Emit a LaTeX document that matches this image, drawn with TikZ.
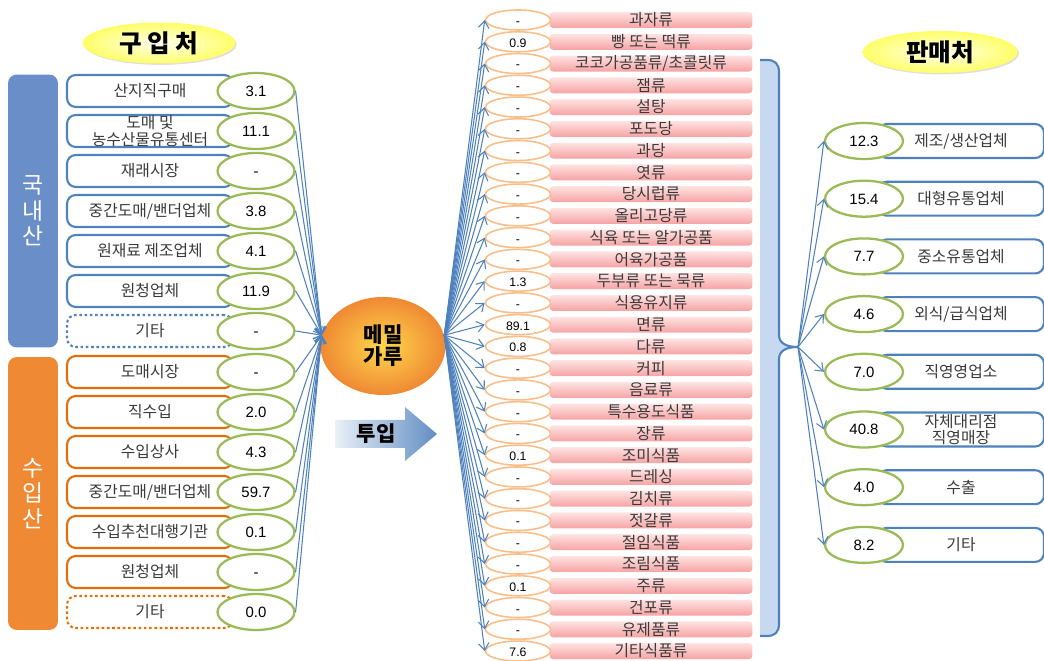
\documentclass[tikz,border=0pt]{standalone}
\usepackage{fontspec}
\setmainfont{Noto Sans CJK KR}
\newfontfamily\numfont{Liberation Sans}
\usepackage{tikz}
\usetikzlibrary{arrows.meta,positioning,shapes.geometric,shadows}
\definecolor{ofblue}{HTML}{4F81BD}
\definecolor{barblue}{HTML}{6A8FC8}
\definecolor{barorange}{HTML}{EF8933}
\definecolor{ofgreen}{HTML}{9BBB59}
\definecolor{boxorange}{HTML}{E46C0A}
\definecolor{lightorange}{HTML}{F9BE8A}
\definecolor{bracefill}{HTML}{C6D9F1}
\definecolor{txtgray}{HTML}{3A3A3A}
\definecolor{pinktop}{HTML}{FFE3E3}
\definecolor{pinkbot}{HTML}{F6A3A3}
\tikzset{%
	title/.style   = {ellipse, minimum width=3.05cm, minimum height=0.82cm, inner sep=0pt, inner color=yellow!5, outer color=yellow!60!white, drop shadow={opacity=0.25, shadow xshift=0.8pt, shadow yshift=-0.8pt}, font=\fontsize{14}{14}\selectfont\bfseries}, % Title
	origin/.style  = {rectangle, rounded corners=5pt, minimum width=1cm, minimum height=5.46cm, text=white, align=center, font=\fontsize{13}{14.5}\selectfont}, % Origin bar
	srcbox/.style  = {draw, rectangle, rounded corners=5pt, minimum width=3.32cm, minimum height=0.64cm, inner ysep=0pt, line width=1.2pt, fill=white, text=txtgray, align=center, font=\fontsize{9}{9.5}\selectfont},
	dombox/.style  = {srcbox, draw=ofblue},
	impbox/.style  = {srcbox, draw=boxorange},
	etc/.style     = {dash pattern=on 1.5pt off 1.5pt}, % Other
	val/.style     = {ellipse, draw=ofgreen, line width=1.3pt, fill=white, minimum width=1.54cm, minimum height=0.72cm, inner sep=0pt, text height=1.25ex, text depth=0.1ex, font=\numfont\fontsize{8.5}{8.5}\selectfont},
	food/.style    = {rectangle, rounded corners=2pt, minimum width=4.06cm, minimum height=0.32cm, inner sep=0pt, top color=pinktop, bottom color=pinkbot, text=txtgray, font=\fontsize{9}{9}\selectfont},
	foodval/.style = {ellipse, draw=lightorange, line width=0.9pt, fill=white, minimum width=1.3cm, minimum height=0.4cm, inner sep=0pt, text height=1.25ex, text depth=0.1ex, font=\numfont\fontsize{7}{7}\selectfont},
	flour/.style   = {ellipse, minimum width=2.5cm, minimum height=1.96cm, inner sep=0pt, inner color=orange!45!yellow!70!white, outer color=barorange, align=center, font=\fontsize{12}{12.5}\selectfont\bfseries},
	link/.style    = {ofblue, line width=0.6pt, -{Straight Barb[length=4pt, width=6pt]}},
}
\begin{document}
\begin{tikzpicture}[x=0.02cm, y=-0.02cm]
	\useasboundingbox (0,0) rectangle (1044,661);
	% titles
	\node[title] (buy) at (159,43) {구 입 처};
	\node[title, minimum width=3.1cm, minimum height=0.84cm] (sell) at (940,52) {판매처};
	% origin bars
	\node[origin, fill=barblue] (dom) at (33,211) {국\\내\\산};
	\node[origin, fill=barorange] (imp) at (33,493.5) {수\\입\\산};
	% sources
	\foreach \i/\y/\lab/\v in {1/91/산지직구매/3.1, 2/131/{도매 및\\농수산물유통센터}/11.1, 3/171/재래시장/-, 4/211/{중간도매/밴더업체}/3.8, 5/251/원재료 제조업체/4.1, 6/291/원청업체/11.9}
	{
		\node[dombox] (s\i) at (150,\y) {\lab};
		\node[val] (v\i) at (256,\y) {\v};
	}
	\node[dombox, etc] (s7) at (150,331) {기타};
	\node[val] (v7) at (256,331) {-};
	\foreach \i/\y/\lab/\v in {8/372/도매시장/-, 9/412/직수입/2.0, 10/452/수입상사/4.3, 11/492/{중간도매/밴더업체}/59.7, 12/532/수입추천대행기관/0.1, 13/572/원청업체/-}
	{
		\node[impbox] (s\i) at (150,\y) {\lab};
		\node[val] (v\i) at (256,\y) {\v};
	}
	\node[impbox, etc] (s14) at (150,612) {기타};
	\node[val] (v14) at (256,612) {0.0};
	% flour
	\node[flour] (ball) at (383,346) {메밀\\가루};
	\foreach \i in {1,...,14}
		\draw[link] (v\i.east) -- (ball.170);
	% input arrow
	\shade[left color=ofblue!12!white, right color=ofblue!90!white] (335,420) -- (405,420) -- (405,407) -- (437,434) -- (405,461) -- (405,448) -- (335,448) -- cycle;
	\node[font=\fontsize{12}{12}\selectfont\bfseries] (put) at (376,434) {투입};
	% food types
	\foreach \v/\lab [count=\i] in {-/과자류, 0.9/빵 또는 떡류, -/{코코가공품류/초콜릿류}, -/잼류, -/설탕, -/포도당, -/과당, -/엿류, -/당시럽류, -/올리고당류, -/식육 또는 알가공품, -/어육가공품, 1.3/두부류 또는 묵류, -/식용유지류, 89.1/면류, 0.8/다류, -/커피, -/음료류, -/특수용도식품, -/장류, 0.1/조미식품, -/드레싱, -/김치류, -/젓갈류, -/절임식품, -/조림식품, 0.1/주류, -/건포류, -/유제품류, 7.6/기타식품류}
	{
		\node[food] (f\i) at (651,{20+21.76*(\i-1)}) {\lab};
		\node[foodval] (fv\i) at (518,{20+21.76*(\i-1)}) {\v};
		\draw[link] (ball.10) -- (fv\i.west);
	}
	% brace
	\fill[bracefill] (760,60) -- (767,60) .. controls (775,60) and (779,64) .. (779,72) -- (779,335) .. controls (779,343) and (786,347) .. (798,347) .. controls (786,347) and (779,351) .. (779,359) -- (779,624) .. controls (779,632) and (775,636) .. (767,636) -- (760,636) -- cycle;
	\draw[ofblue, line width=1.2pt] (760,60) -- (767,60) .. controls (775,60) and (779,64) .. (779,72) -- (779,335) .. controls (779,343) and (786,347) .. (798,347) .. controls (786,347) and (779,351) .. (779,359) -- (779,624) .. controls (779,632) and (775,636) .. (767,636) -- (760,636);
	\coordinate (tip) at (798,347);
	% sales
	\foreach \v/\lab [count=\i] in {12.3/{제조/생산업체}, 15.4/대형유통업체, 7.7/중소유통업체, 4.6/{외식/급식업체}, 7.0/직영영업소, 40.8/{자체대리점\\직영매장}, 4.0/수출, 8.2/기타}
	{
		\node[dombox, minimum height=0.68cm] (d\i) at (961,{141+57.7*(\i-1)}) {\lab};
		\node[val, minimum width=1.56cm] (dv\i) at (864,{141+57.7*(\i-1)}) {\v};
		\draw[link] (tip) -- (dv\i.west);
	}
\end{tikzpicture}
\end{document}
